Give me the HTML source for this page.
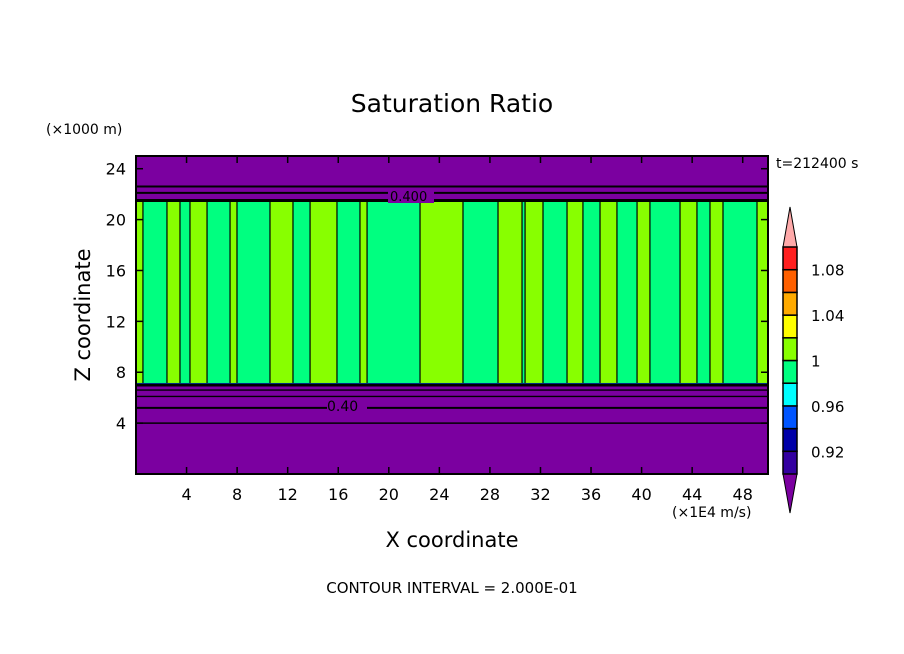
<!DOCTYPE html>
<html><head><meta charset="utf-8"><style>
html,body{margin:0;padding:0;background:#fff;}
svg{display:block;font-family:"DejaVu Sans","Liberation Sans",sans-serif;}
</style></head><body>
<svg id="chart" width="904" height="654" viewBox="0 0 904 654">
<text x="452" y="112" font-size="25" text-anchor="middle">Saturation Ratio</text>
<text x="46" y="134" font-size="14">(×1000 m)</text>
<text x="776" y="168" font-size="14">t=212400 s</text>
<text x="90" y="315" font-size="21" text-anchor="middle" transform="rotate(-90 90 315)">Z coordinate</text>
<text x="452" y="547" font-size="21" text-anchor="middle">X coordinate</text>
<text x="672" y="517" font-size="14">(×1E4 m/s)</text>
<text x="452" y="593" font-size="15" text-anchor="middle">CONTOUR INTERVAL = 2.000E-01</text>
<g id="plot"></g>
<g id="cbar"></g>
</svg>
<script>
// stripe edges in x units (×1E4) and saturation value of each stripe
const stripeEdges=[0,0.55,2.45,3.48,4.27,5.62,7.44,7.99,10.6,12.42,13.77,15.9,17.72,18.28,22.47,25.87,28.64,30.54,30.78,32.2,34.1,35.36,36.71,38.05,39.64,40.66,43.04,44.38,45.41,46.44,49.13,50];
const stripeValues=[1.01,0.99,1.01,0.99,1.01,0.99,1.01,0.99,1.01,0.99,1.01,0.99,1.01,0.99,1.01,0.99,1.01,0.99,1.01,0.99,1.01,0.99,1.01,0.99,1.01,0.99,1.01,0.99,1.01,0.99,1.01];
const moistBottom=7.0, moistTop=21.5;
const contourLevels=[22.6,22.1,6.6,6.1,5.2,4.0];
const xTicks=[4,8,12,16,20,24,28,32,36,40,44,48];
const yTicks=[4,8,12,16,20,24];
const cbarLevels=[0.90,0.92,0.94,0.96,0.98,1.00,1.02,1.04,1.06,1.08,1.10];
const cbarColors=["#3300a0","#0000a8","#0055ff","#00ffff","#00ff80","#88ff00","#ffff00","#ffaa00","#ff6000","#ff2020"];
const cbarLabels=["0.92","0.96","1","1.04","1.08"];

const NS="http://www.w3.org/2000/svg";
const X0=136,X1=768,Y0=474,Y1=156;
const sx=v=>X0+(v-0)/50*(X1-X0);
const sy=v=>Y0-(v-0)/25*(Y0-Y1);
function mk(tag,attrs,parent){const e=document.createElementNS(NS,tag);for(const k in attrs)e.setAttribute(k,attrs[k]);parent.appendChild(e);return e;}
const P=document.getElementById('plot');
function colorFor(v){for(let i=0;i<cbarColors.length;i++){if(v<cbarLevels[i+1])return cbarColors[i];}return "#ffaaaa";}

let bg=mk('rect',{x:X0,y:Y1,width:X1-X0,height:Y0-Y1,fill:'#7b00a0'},P);


for(let i=0;i<stripeValues.length;i++){
  const r=mk('rect',{x:sx(stripeEdges[i]),y:sy(moistTop),width:sx(stripeEdges[i+1])-sx(stripeEdges[i]),height:sy(moistBottom)-sy(moistTop),fill:colorFor(stripeValues[i])},P);
  
  
  if(i>0){
    const l=mk('line',{x1:sx(stripeEdges[i]),x2:sx(stripeEdges[i]),y1:sy(moistTop),y2:sy(moistBottom),stroke:'#000','stroke-width':1.2},P);
    
    
  }
}
let fr=mk('rect',{x:X0,y:sy(moistBottom)-2,width:X1-X0,height:2,fill:'#0055ff'},P);


[moistTop,moistBottom].forEach(v=>{
  const l=mk('line',{x1:X0,x2:X1,y1:sy(v),y2:sy(v),stroke:'#000','stroke-width':3},P);
  
  
});
contourLevels.forEach((v,i)=>{
  const l=mk('line',{x1:X0,x2:X1,y1:sy(v),y2:sy(v),stroke:'#000','stroke-width':(i===4||i<2)?2:1.4},P);
  
  
});
let lb=mk('rect',{x:327,y:398,width:40,height:14,fill:'#7b00a0'},P);


let lt=mk('text',{x:327,y:411,'font-size':14},P);lt.textContent='0.40';


let lb2=mk('rect',{x:388,y:190,width:46,height:13,fill:'#7b00a0'},P);


let lt2=mk('text',{x:390,y:201,'font-size':13},P);lt2.textContent='0.400';



let fr2=mk('rect',{x:X0,y:Y1,width:X1-X0,height:Y0-Y1,fill:'none',stroke:'#000','stroke-width':2},P);


xTicks.forEach(v=>{
  const x=sx(v);
  const t1=mk('line',{x1:x,x2:x,y1:Y0,y2:Y0-7,stroke:'#000','stroke-width':1.5},P);
  
  
  const t2=mk('line',{x1:x,x2:x,y1:Y1,y2:Y1+7,stroke:'#000','stroke-width':1.5},P);
  
  
  const t=mk('text',{x:x,y:Y0+26,'font-size':16,'text-anchor':'middle'},P);t.textContent=v;
  
  
});
yTicks.forEach(v=>{
  const y=sy(v);
  const t1=mk('line',{x1:X0,x2:X0+7,y1:y,y2:y,stroke:'#000','stroke-width':1.5},P);
  
  
  const t2=mk('line',{x1:X1,x2:X1-7,y1:y,y2:y,stroke:'#000','stroke-width':1.5},P);
  
  
  const t=mk('text',{x:X0-10,y:y+6,'font-size':16,'text-anchor':'end'},P);t.textContent=v;
  
  
});

const C=document.getElementById('cbar');
const CX=783,CW=14,CB=474,CT=247;
const cy=v=>CB-(v-cbarLevels[0])/(cbarLevels[cbarLevels.length-1]-cbarLevels[0])*(CB-CT);
let up=mk('polygon',{points:`${CX},${CT} ${CX+CW},${CT} ${CX+CW/2},207`,fill:'#ffaaaa',stroke:'#000','stroke-width':1},C);


let dn=mk('polygon',{points:`${CX},${CB} ${CX+CW},${CB} ${CX+CW/2},513`,fill:'#7b00a0',stroke:'#000','stroke-width':1},C);


for(let i=0;i<cbarColors.length;i++){
  const r=mk('rect',{x:CX,y:cy(cbarLevels[i+1]),width:CW,height:cy(cbarLevels[i])-cy(cbarLevels[i+1]),fill:cbarColors[i],stroke:'#000','stroke-width':1.5},C);
  
  
}
cbarLabels.forEach(s=>{
  const t=mk('text',{x:811,y:cy(parseFloat(s))+6,'font-size':15},C);t.textContent=s;
  
  
});
</script>
</body></html>
